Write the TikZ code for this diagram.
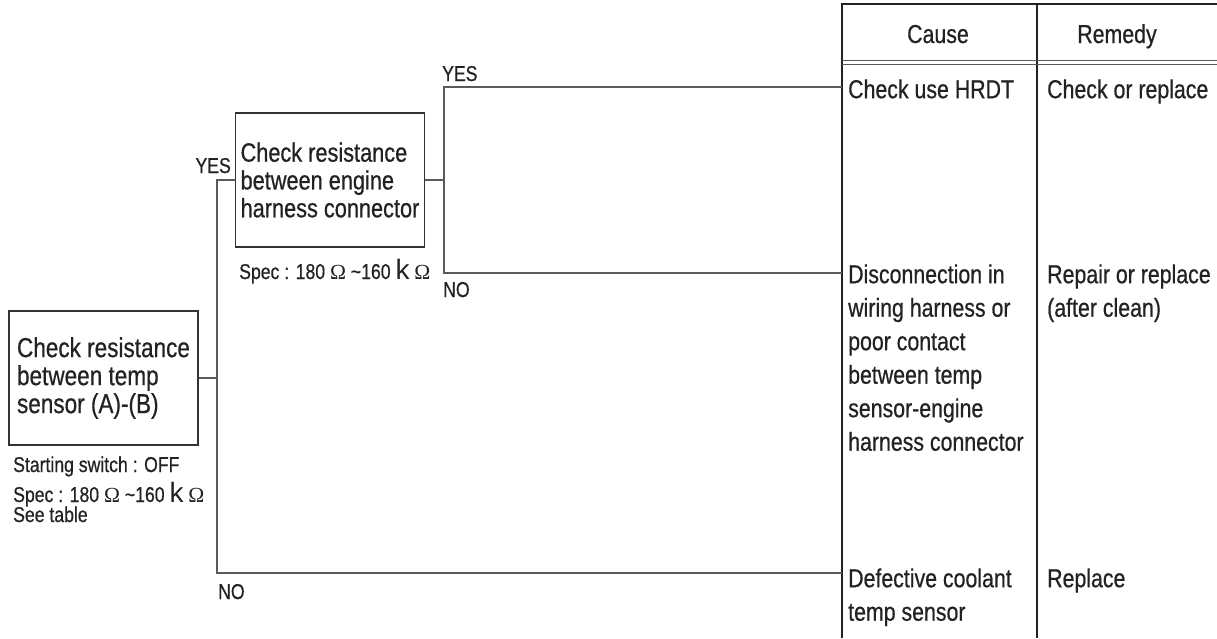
\documentclass[tikz,border=0pt]{standalone}
\usepackage{fontspec}
\setmainfont{Liberation Sans}[FakeStretch=0.82,FakeBold=0.6]
\newfontfamily\omfont{Liberation Serif}
\newfontfamily\kfont{Liberation Sans}
\newcommand{\myohm}{{\omfont\fontsize{21.5}{21.5}\selectfont Ω}}
\newcommand{\mykay}{{\kfont\fontsize{28}{28}\selectfont k}}
\newcommand{\fl}{\rule{0pt}{19pt}}
\definecolor{txtc}{HTML}{222222}
\definecolor{wirec}{HTML}{5A5A5A}
\definecolor{boxc}{HTML}{333333}
\definecolor{tabc}{HTML}{222222}
\begin{document}
\begin{tikzpicture}[x=1pt,y=-1pt,
  font=\fontsize{26}{28}\selectfont, text=txtc,
  chkbox/.style={draw=boxc, line width=1.8pt, align=left,
    font=\fontsize{26.5}{27.8}\selectfont,
    inner sep=0pt, minimum width=189pt, minimum height=134pt},
  lab/.style={font=\fontsize{21.5}{21.5}\selectfont, inner sep=0pt},
  small/.style={font=\fontsize{21.5}{21.5}\selectfont, inner sep=0pt, anchor=base west},
  cell/.style={font=\fontsize{26}{33.5}\selectfont, inner sep=0pt, align=left, anchor=north west},
  head/.style={font=\fontsize{26}{28}\selectfont, inner sep=0pt, anchor=base},
  wire/.style={draw=wirec, line width=1.4pt},
  tline/.style={draw=tabc, line width=2pt}]
\useasboundingbox (0,0) rectangle (1217,638);

% table frame
\draw[tline] (842,638) -- (842,4) -- (1217,4);
\draw[draw=tabc, line width=1.3pt] (1037,4) -- (1037,638);
\draw[draw=wirec, line width=0.9pt] (842,60.5) -- (1217,60.5);
\draw[draw=wirec, line width=0.9pt] (842,64) -- (1217,64);

% header
\node[head] (hcause) at (938,43) {Cause};
\node[head] (hremedy) at (1117,43) {Remedy};

% table cells
\node[cell] (c1) at (848,79) {\fl Check use HRDT};
\node[cell] (r1) at (1047,79) {\fl Check or replace};
\node[cell] (c2) at (848,264) {\fl Disconnection in\\wiring harness or\\poor contact\\between temp\\sensor-engine\\harness connector};
\node[cell] (r2) at (1047,264) {\fl Repair or replace\\(after clean)};
\node[cell] (c3) at (848,568) {\fl Defective coolant\\temp sensor};
\node[cell] (r3) at (1047,568) {\fl Replace};

% check boxes
\node[chkbox, font=\fontsize{27.5}{28}\selectfont] (b1) at (103.5,378) {Check resistance\\between temp\\sensor (A)-(B)};
\node[chkbox] (b2) at (330,180) {Check resistance\\between engine\\harness connector};

% notes
\node[small] (sw) at (13,472) {Starting switch : OFF};
\node[small] (sp1) at (13,502) {Spec : 180 \myohm{} \textasciitilde160 \mykay{} \myohm};
\node[small] (st) at (13,522) {See table};
\node[small] (sp2) at (239,279) {Spec : 180 \myohm{} \textasciitilde160 \mykay{} \myohm};

% labels
\node[lab, anchor=base east] (yes1) at (231,173) {YES};
\node[lab, anchor=base west] (no1) at (218,599) {NO};
\node[lab, anchor=base west] (yes2) at (442,81) {YES};
\node[lab, anchor=base west] (no2) at (443,297) {NO};

% junctions and ends
\coordinate (s1) at (217,180);
\coordinate (s2) at (217,573);
\coordinate (s3) at (444,87);
\coordinate (s4) at (444,273);
\coordinate (e1) at (842,87);
\coordinate (e2) at (842,273);
\coordinate (e3) at (842,573);

% connectors
\draw[wire] (b1.east) -- (b1.east -| s1);
\draw[wire] (b2.west) -- (s1) -- (s2) -- (e3);
\draw[wire] (b2.east) -- (b2.east -| s3);
\draw[wire] (e1) -- (s3) -- (s4) -- (e2);
\end{tikzpicture}
\end{document}
